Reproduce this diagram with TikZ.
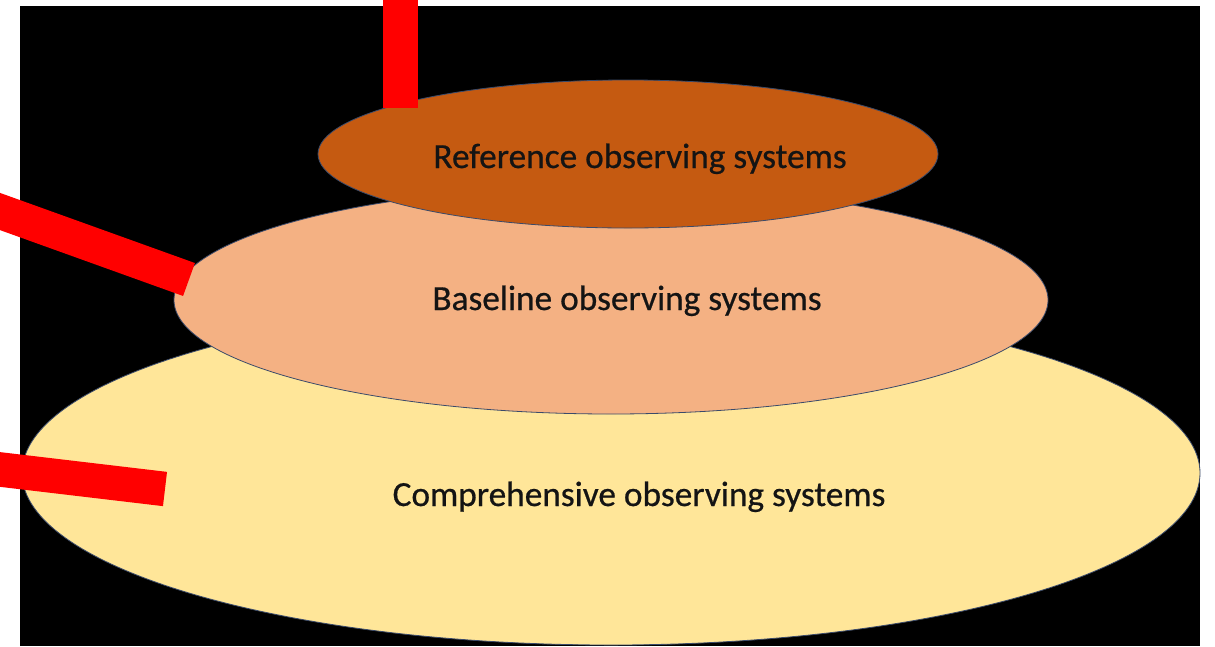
\documentclass[tikz,border=0pt]{standalone}
\usepackage{fontspec}
\setmainfont{Carlito}
\newfontfamily\layerfont[FakeBold=0.6]{Carlito}
\usepackage{xcolor}
\usepackage{tikz}
\usetikzlibrary{shapes.geometric, positioning}

\definecolor{compyellow}{HTML}{FFE699}
\definecolor{basesalmon}{HTML}{F4B183}
\definecolor{refbrown}{HTML}{C55A11}
\definecolor{rimline}{HTML}{3A4A6A}

\begin{document}
\begin{tikzpicture}[
    x=1pt, y=-1pt,
    layer/.style={ellipse, draw=rimline, line width=0.8pt, inner sep=0pt},
    complayer/.style={layer, fill=compyellow, minimum width=1178pt, minimum height=344pt},
    baselayer/.style={layer, fill=basesalmon, minimum width=874pt, minimum height=228pt},
    reflayer/.style={layer, fill=refbrown, minimum width=620pt, minimum height=148pt},
    lbl/.style={font=\layerfont\fontsize{35.3}{42}\selectfont, text=black!92, anchor=base, inner sep=0pt},
    pointer/.style={draw=red, line width=35pt}
]

%% --- Canvas ---
\useasboundingbox (0,0) rectangle (1215,646);
\fill[white] (0,0) rectangle (1215,646);
\fill[black] (20,6) rectangle (1200,646);

%% --- Stacked layers ---
\node[complayer] (comp) at (611,473) {};
\node[baselayer] (base) at (611,300) {};
\node[reflayer]  (ref)  at (628,154) {};

\node[lbl] (comptext) at (639,506) {Comprehensive observing systems};
\node[lbl] (basetext) at (627,310) {Baseline observing systems};
\node[lbl] (reftext)  at (640,168) {Reference observing systems};

%% --- Red markers ---
\coordinate (mark1a) at (400.5,-10);
\coordinate (mark1b) at (400.5,108);
\coordinate (mark2a) at (-20,204.3);
\coordinate (mark2b) at (189,279.5);
\coordinate (mark3a) at (-20,467.1);
\coordinate (mark3b) at (165,489);

\draw[pointer] (mark1a) -- (mark1b);
\draw[pointer] (mark2a) -- (mark2b);
\draw[pointer, line width=34.5pt] (mark3a) -- (mark3b);

\end{tikzpicture}
\end{document}
